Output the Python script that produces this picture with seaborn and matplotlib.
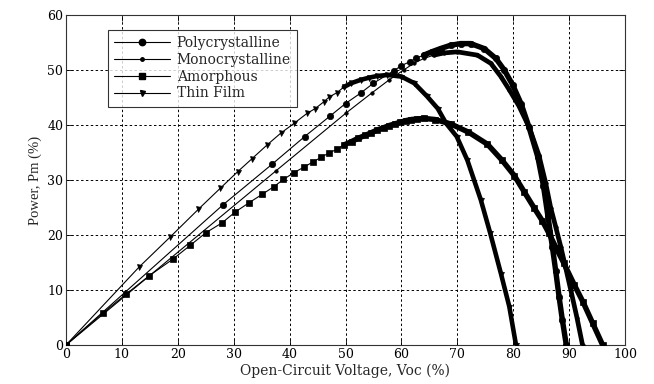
import matplotlib
matplotlib.use("Agg")
import matplotlib.pyplot as plt
import seaborn as sns
import pandas as pd
from matplotlib.lines import Line2D

# ---------------- data ----------------
series_names = ["Polycrystalline", "Monocrystalline", "Amorphous", "Thin Film"]

poly_v = [0, 28.1, 36.9, 42.7, 47.2, 50.0, 52.7, 55.0, 58.7, 60.0, 61.5, 62.7, 64.0, 65.4,
          67.0, 68.8, 70.6, 72.4, 74.8, 76.9, 78.4, 79.9, 81.4, 82.8, 84.4, 85.4, 86.2,
          87.0, 87.6, 88.2, 88.8, 89.5]
poly_p = [0, 25.5, 32.9, 37.9, 41.6, 43.9, 45.8, 47.6, 49.9, 50.8, 51.5, 52.2, 52.7, 53.3,
          53.9, 54.5, 54.8, 54.8, 53.9, 52.1, 50.0, 47.3, 43.9, 39.7, 34.2, 29.0, 23.5,
          17.9, 13.5, 8.8, 4.5, 0]

mono_v = [0, 37.6, 50.0, 54.8, 57.8, 60.4, 62.2, 64.0, 65.8, 67.6, 70.0, 73.6, 76.0, 77.8,
          79.3, 81.0, 82.9, 84.6, 85.8, 86.7, 87.6, 88.5, 89.4, 90.3, 91.4, 92.4]
mono_p = [0, 31.7, 42.1, 45.9, 48.2, 50.0, 51.2, 52.1, 52.7, 53.1, 53.3, 52.7, 51.2, 48.8,
          46.4, 43.5, 39.5, 34.5, 29.5, 25.0, 21.5, 17.9, 14.0, 10.0, 5.0, 0]

amor_v = [0, 6.7, 10.7, 14.9, 19.1, 22.2, 25.0, 27.9, 30.3, 32.8, 35.1, 37.2, 38.9, 40.7,
          42.5, 44.2, 45.6, 47.0, 48.5, 49.8, 51.1, 52.3, 53.5, 54.6, 55.7, 56.8, 57.8,
          58.8, 59.8, 60.8, 61.8, 62.8, 64.0, 66.0, 68.8, 72.0, 75.4, 78.0, 80.2, 82.0,
          83.7, 85.2, 86.4, 87.7, 89.0, 90.9, 92.5, 94.2, 96.0]
amor_p = [0, 5.9, 9.2, 12.6, 15.6, 18.1, 20.4, 22.2, 24.2, 25.9, 27.4, 28.8, 30.1, 31.3,
          32.3, 33.3, 34.1, 34.9, 35.6, 36.4, 37.0, 37.6, 38.1, 38.6, 39.1, 39.5, 39.9,
          40.2, 40.5, 40.8, 41.0, 41.1, 41.2, 41.0, 40.2, 38.7, 36.5, 33.6, 30.8, 27.8,
          25.0, 22.6, 20.3, 17.6, 15.0, 11.0, 7.8, 4.0, 0]

tf_v = [0, 13.1, 18.6, 23.7, 27.6, 30.7, 33.3, 36.0, 38.4, 40.8, 43.1, 44.6, 46.1, 47.1,
        48.5, 49.7, 51.0, 52.7, 54.2, 55.6, 57.5, 60.0, 62.3, 64.6, 66.5, 68.0, 69.9,
        71.8, 74.2, 75.9, 77.8, 79.3, 80.5]
tf_p = [0, 14.2, 19.6, 24.7, 28.5, 31.5, 33.9, 36.4, 38.5, 40.3, 42.1, 43.0, 44.2, 45.1,
        45.9, 46.9, 47.6, 48.2, 48.6, 48.9, 49.1, 48.8, 47.6, 45.2, 43.0, 40.3, 37.9,
        33.6, 26.4, 20.3, 13.0, 7.0, 0]

x_ticks = [0, 10, 20, 30, 40, 50, 60, 70, 80, 90, 100]
y_ticks = [0, 10, 20, 30, 40, 50, 60]

# ---------------- styles ----------------
data = {
    "Polycrystalline": (poly_v, poly_p),
    "Monocrystalline": (mono_v, mono_p),
    "Amorphous": (amor_v, amor_p),
    "Thin Film": (tf_v, tf_p),
}
markers = {"Polycrystalline": "o", "Monocrystalline": ".", "Amorphous": "s", "Thin Film": "v"}
msizes = {"Polycrystalline": 4.6, "Monocrystalline": 5.0, "Amorphous": 4.4, "Thin Film": 3.6}
dense_from = {"Polycrystalline": 12, "Monocrystalline": 8, "Amorphous": 19, "Thin Film": 15}
dense_lw = {"Polycrystalline": 3.9, "Monocrystalline": 3.4, "Amorphous": 3.9, "Thin Film": 3.3}

sns.set_theme(style="white")
plt.rcParams["font.family"] = ["DejaVu Serif"]

fig = plt.figure(figsize=(6.54, 3.84), dpi=100)
ax = fig.add_axes([66 / 654, 1 - 345 / 384, (625 - 66) / 654, (345 - 15) / 384])

for name in series_names:
    v, p = data[name]
    df = pd.DataFrame({"V": v, "P": p})
    sns.lineplot(data=df, x="V", y="P", ax=ax, sort=False, estimator=None,
                 color="black", linewidth=0.8, marker=markers[name],
                 markersize=msizes[name], markeredgewidth=0.5,
                 markerfacecolor="black", markeredgecolor="black", zorder=3)
    d = dense_from[name]
    dfd = df.iloc[d:]
    sns.lineplot(data=dfd, x="V", y="P", ax=ax, sort=False, estimator=None,
                 color="black", linewidth=dense_lw[name], zorder=3, solid_capstyle="round")

ax.set_xlim(0, 100)
ax.set_ylim(0, 60)
ax.set_xticks(x_ticks)
ax.set_yticks(y_ticks)
ax.set_xticklabels([str(t) for t in x_ticks], fontsize=9)
ax.set_yticklabels([str(t) for t in y_ticks], fontsize=9)
ax.grid(True, color="black", linestyle=(0, (2.5, 2.5)), linewidth=0.7)
ax.set_axisbelow(True)
for s in ax.spines.values():
    s.set_color("#333333")
    s.set_linewidth(0.8)
ax.tick_params(direction="in", length=4, width=0.6, top=True, right=True,
               bottom=True, left=True, pad=2, colors="black")

ax.set_xlabel("Open-Circuit Voltage, Voc (%)", fontsize=10, labelpad=2)
ax.set_ylabel("Power, Pm (%)", fontsize=10.5, labelpad=4, family=["Liberation Serif"])

handles = [Line2D([], [], color="black", linewidth=0.8, marker=markers[n],
                  markersize=msizes[n], markerfacecolor="black") for n in series_names]
leg = ax.legend(handles, series_names, loc="upper left", bbox_to_anchor=(0.075, 0.955),
                fontsize=10, frameon=True, fancybox=False, edgecolor="black",
                handlelength=4.0, handletextpad=0.5, borderpad=0.45, labelspacing=0.2,
                borderaxespad=0)
leg.get_frame().set_linewidth(0.8)
leg.set_zorder(5)

fig.savefig("out.png", dpi=100, facecolor="white")
